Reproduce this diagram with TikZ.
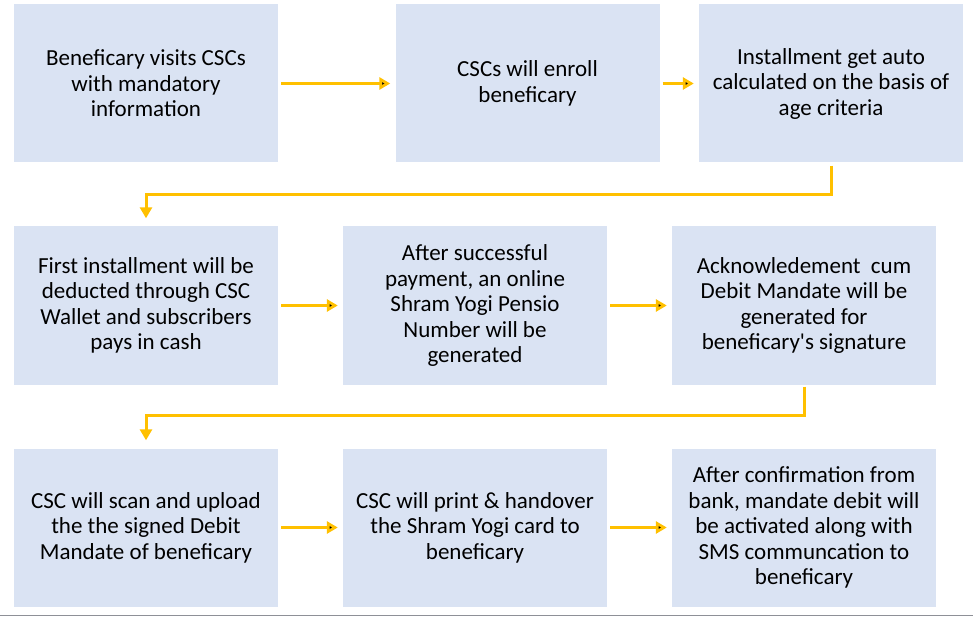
\documentclass[tikz,border=0pt]{standalone}
\usepackage{fontspec}
\setmainfont{Carlito}
\usepackage{tikz}
\usetikzlibrary{positioning,arrows.meta}
\definecolor{boxblue}{HTML}{DAE3F3}
\definecolor{flowgold}{HTML}{FFC000}
\definecolor{rulegray}{HTML}{8E9097}
\begin{document}
\begin{tikzpicture}[x=1pt,y=-1pt,on grid,
        box/.style={fill=boxblue,minimum width=264pt,minimum height=158pt,inner sep=0pt,align=center,
            font=\fontsize{23pt}{25.5pt}\selectfont},
        flow/.style={draw=flowgold,line width=3pt,-{Triangle[length=11pt,width=12pt]}}]
        \useasboundingbox (0,0) rectangle (973,617);
        \node[box] (b1) at (146,83.5) {Beneficary visits CSCs\\with mandatory\\information};
        \node[box] (b2) [right=381.5pt of b1] {CSCs will enroll\\beneficary};
        \node[box] (b3) [right=303.5pt of b2] {Installment get auto\\calculated on the basis of\\age criteria};
        \node[box] (b4) [below=222pt of b1] {First installment will be\\deducted through CSC\\Wallet and subscribers\\pays in cash};
        \node[box] (b5) [right=329pt of b4] {After successful\\payment, an online\\Shram Yogi Pensio\\Number will be\\generated};
        \node[box] (b6) [right=329pt of b5] {Acknowledement\ \ cum\\Debit Mandate will be\\generated for\\beneficary\textquotesingle s signature};
        \node[box] (b7) [below=222pt of b4] {CSC will scan and upload\\the the signed Debit\\Mandate of beneficary};
        \node[box] (b8) [right=329pt of b7] {CSC will print \& handover\\the Shram Yogi card to\\beneficary};
        \node[box] (b9) [right=329pt of b8] {After confirmation from\\bank, mandate debit will\\be activated along with\\SMS communcation to\\beneficary};
        \path[flow,shorten <=3pt,shorten >=5pt]
        (b1) edge (b2) (b2) edge (b3)
        (b4) edge (b5) (b5) edge (b6)
        (b7) edge (b8) (b8) edge (b9);
        \draw[flow,shorten >=8pt] ([yshift=-3pt]b3.south) -- ([yshift=-32pt]b3.south) -| (b4.north);
        \draw[flow,shorten >=8pt] ([yshift=-2pt]b6.south) -- ([yshift=-31pt]b6.south) -| (b7.north);
        \draw[rulegray,line width=1.5pt] (0,615.5) -- (973,615.5);
    \end{tikzpicture}
\end{document}
